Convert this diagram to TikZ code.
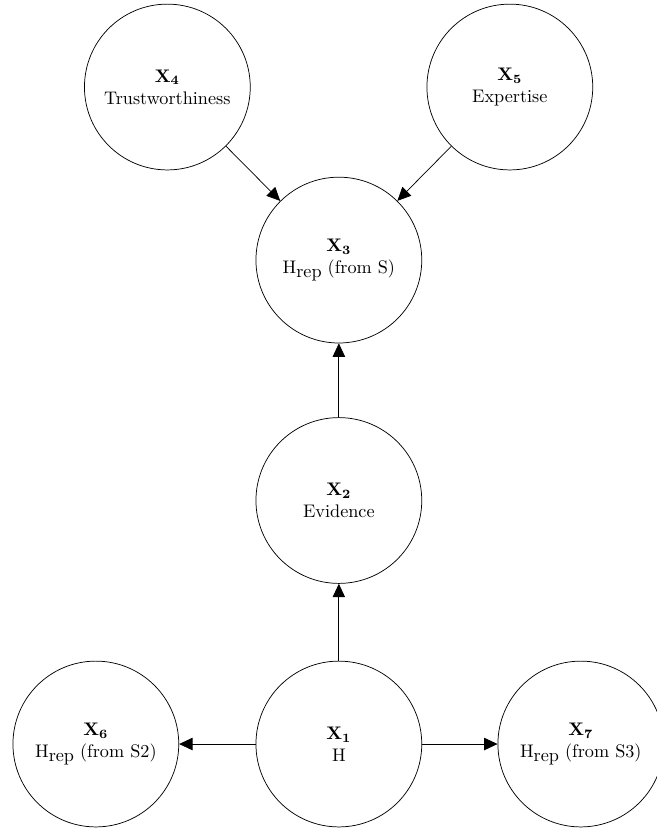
\documentclass[tikz,border=0pt]{standalone}
\usepackage{amsmath}
\usepackage{tikz}
\usetikzlibrary{arrows.meta, positioning}

\newcommand{\hrep}{H\raisebox{-0.45ex}{rep}}

\begin{document}
\begin{tikzpicture}[
    var/.style={circle, draw, thin, minimum size=3.2cm, inner sep=0pt, align=center},
    edge/.style={-{Triangle[length=2.6mm, width=2.4mm]}, thin}
  ]
        \useasboundingbox (-6.54,-1.64) rectangle (6.14,14.36);
        % Hypothesis and evidence
        \node[var] (x1) at (0,0) {$\mathbf{X_1}$\\H};
        \node[var] (x2) at (0,4.70) {$\mathbf{X_2}$\\Evidence};
        \node[var] (x3) at (0,9.34) {$\mathbf{X_3}$\\\hrep{} (from S)};
        % Source reliability
        \node[var] (x4) at (-3.31,12.68) {$\mathbf{X_4}$\\Trustworthiness};
        \node[var] (x5) at (3.30,12.68) {$\mathbf{X_5}$\\Expertise};
        % Further reports
        \node[var] (x6) at (-4.69,0) {$\mathbf{X_6}$\\\hrep{} (from S2)};
        \node[var] (x7) at (4.67,0) {$\mathbf{X_7}$\\\hrep{} (from S3)};
        % Edges
        \draw[edge] (x1) -- (x2);
        \draw[edge] (x2) -- (x3);
        \draw[edge] (x4) -- (x3);
        \draw[edge] (x5) -- (x3);
        \draw[edge] (x1) -- (x6);
        \draw[edge] (x1) -- (x7);
      \end{tikzpicture}
\end{document}
